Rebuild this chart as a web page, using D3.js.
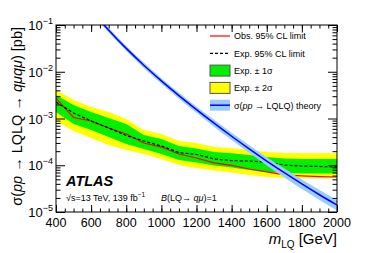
<!DOCTYPE html>
<html>
<head>
<meta charset="utf-8">
<script src="https://cdn.jsdelivr.net/npm/d3@7"></script>
<style>
  body { margin: 0; background: #fff; }
  text { font-family: "Liberation Sans", Arial, sans-serif; }
</style>
</head>
<body>
<div id="chart"></div>
<script>
// limits vs leptoquark mass (pb)
var masses   = [400, 500, 600, 700, 800, 900, 1000, 1100, 1200, 1300, 1400, 1500, 1600, 1700, 1800, 1900, 2000];
var obsLimit = [2.68e-3, 1.05e-3, 8.85e-4, 6.27e-4, 4.66e-4, 2.99e-4, 2.45e-4, 1.74e-4, 1.43e-4, 1.12e-4, 9.9e-5, 8.3e-5, 7.2e-5, 6.2e-5, 5.9e-5, 5.7e-5, 5.6e-5];
var expLimit = [2.25e-3, 1.31e-3, 8.85e-4, 6.27e-4, 4.33e-4, 3.30e-4, 2.58e-4, 1.87e-4, 1.70e-4, 1.36e-4, 1.26e-4, 1.23e-4, 1.17e-4, 1.01e-4, 9.6e-5, 9.4e-5, 9.2e-5];
var expPlus2 = [4.07e-3, 2.49e-3, 1.76e-3, 1.38e-3, 9.75e-4, 5.68e-4, 4.66e-4, 3.30e-4, 2.99e-4, 2.45e-4, 2.31e-4, 2.12e-4, 1.92e-4, 1.83e-4, 1.80e-4, 1.80e-4, 1.80e-4];
var expPlus1 = [3.18e-3, 1.95e-3, 1.38e-3, 1.03e-3, 7.62e-4, 4.44e-4, 3.64e-4, 2.58e-4, 2.28e-4, 1.92e-4, 1.80e-4, 1.66e-4, 1.50e-4, 1.39e-4, 1.36e-4, 1.36e-4, 1.36e-4];
var expMinus1 = [1.38e-3, 7.62e-4, 5.68e-4, 4.02e-4, 2.85e-4, 2.23e-4, 1.74e-4, 1.29e-4, 1.15e-4, 9.9e-5, 8.95e-5, 7.9e-5, 7.2e-5, 6.8e-5, 6.7e-5, 6.7e-5, 6.7e-5];
var expMinus2 = [8.85e-4, 5.41e-4, 3.83e-4, 2.71e-4, 2.12e-4, 1.74e-4, 1.36e-4, 1.01e-4, 8.73e-5, 7.73e-5, 7.0e-5, 6.2e-5, 5.6e-5, 5.33e-5, 5.26e-5, 5.26e-5, 5.26e-5];

// theory cross-section and its band
var thMasses = [600, 700, 800, 900, 1000, 1100, 1200, 1300, 1400, 1500, 1600, 1700, 1800, 1900, 2000];
var thXsec   = [2.04e-1, 7.76e-2, 3.16e-2, 1.38e-2, 6.38e-3, 3.09e-3, 1.55e-3, 7.94e-4, 4.17e-4, 2.24e-4, 1.23e-4, 6.92e-5, 3.98e-5, 2.34e-5, 1.41e-5];
var thUp     = [2.28e-1, 8.70e-2, 3.57e-2, 1.57e-2, 7.30e-3, 3.57e-3, 1.81e-3, 9.37e-4, 4.96e-4, 2.69e-4, 1.49e-4, 8.5e-5, 4.94e-5, 2.95e-5, 1.8e-5];
var thDown   = [1.81e-1, 6.88e-2, 2.78e-2, 1.21e-2, 5.55e-3, 2.66e-3, 1.32e-3, 6.67e-4, 3.46e-4, 1.84e-4, 9.9e-5, 5.5e-5, 3.1e-5, 1.8e-5, 1.08e-5];

var xTicks = [400, 600, 800, 1000, 1200, 1400, 1600, 1800, 2000];
var yTicks = [1e-5, 1e-4, 1e-3, 1e-2, 1e-1];
var yTickExp = ["\u22125", "\u22124", "\u22123", "\u22122", "\u22121"];

var svgWidth = 374;
var svgHeight = 253;
var chartMargin = { top: 25, right: 37, bottom: 41, left: 56 };
var chartWidth = svgWidth - chartMargin.left - chartMargin.right;
var chartHeight = svgHeight - chartMargin.top - chartMargin.bottom;

var svg = d3.select("#chart").append("svg")
  .attr("width", svgWidth)
  .attr("height", svgHeight);

var chartGroup = svg.append("g")
  .attr("transform", `translate(${chartMargin.left}, ${chartMargin.top})`);

var xScale = d3.scaleLinear().domain([400, 2000]).range([0, chartWidth]);
var yScale = d3.scaleLog().domain([1e-5, 1e-1]).range([chartHeight, 0]);

chartGroup.append("clipPath").attr("id", "clip")
  .append("rect").attr("width", chartWidth).attr("height", chartHeight);

var plot = chartGroup.append("g").attr("clip-path", "url(#clip)");

function band(lo, hi) {
  return d3.area()
    .x((d, i) => xScale(masses[i]))
    .y0((d, i) => yScale(lo[i]))
    .y1((d, i) => yScale(hi[i]));
}

plot.append("path").datum(masses)
  .attr("d", band(expMinus2, expPlus2))
  .attr("fill", "#ffff00");
plot.append("path").datum(masses)
  .attr("d", band(expMinus1, expPlus1))
  .attr("fill", "#00f000");

var line = d3.line()
  .x(d => xScale(d[0]))
  .y(d => yScale(d[1]));

plot.append("path").datum(d3.zip(masses, obsLimit))
  .attr("d", line).attr("fill", "none")
  .attr("stroke", "#ff0000").attr("stroke-width", 1.2);
plot.append("path").datum(d3.zip(masses, expLimit))
  .attr("d", line).attr("fill", "none")
  .attr("stroke", "#000").attr("stroke-width", 1.2)
  .attr("stroke-dasharray", "3,2");

// theory band + line (smooth)
plot.append("path").datum(thMasses)
  .attr("d", d3.area()
    .curve(d3.curveMonotoneX)
    .x(d => xScale(d))
    .y0((d, i) => yScale(thDown[i]))
    .y1((d, i) => yScale(thUp[i])))
  .attr("fill", "#99ccff");
plot.append("path").datum(d3.zip(thMasses, thXsec))
  .attr("d", line.curve(d3.curveMonotoneX)).attr("fill", "none")
  .attr("stroke", "#0000ff").attr("stroke-width", 1.5);

// frame
chartGroup.append("rect")
  .attr("width", chartWidth).attr("height", chartHeight)
  .attr("fill", "none").attr("stroke", "#000").attr("stroke-width", 1);

// inward ticks on all four sides
var xMinor = d3.range(400, 2001, 50);
var yMinor = [];
[1e-5, 1e-4, 1e-3, 1e-2].forEach(function(dec) {
  for (var k = 2; k <= 9; k++) yMinor.push(k * dec);
});

function tickGroup(axis, tr) {
  var g = chartGroup.append("g").attr("transform", tr).call(axis);
  g.select(".domain").remove();
  g.selectAll("text").remove();
  return g;
}
tickGroup(d3.axisBottom(xScale).tickValues(xTicks).tickSize(-7), `translate(0, ${chartHeight})`);
tickGroup(d3.axisBottom(xScale).tickValues(xMinor).tickSize(-3.5), `translate(0, ${chartHeight})`);
tickGroup(d3.axisTop(xScale).tickValues(xTicks).tickSize(-7), "translate(0,0)");
tickGroup(d3.axisTop(xScale).tickValues(xMinor).tickSize(-3.5), "translate(0,0)");
tickGroup(d3.axisLeft(yScale).tickValues(yTicks).tickSize(-9), "translate(0,0)");
tickGroup(d3.axisLeft(yScale).tickValues(yMinor).tickSize(-4.5), "translate(0,0)");
tickGroup(d3.axisRight(yScale).tickValues(yTicks).tickSize(-9), `translate(${chartWidth},0)`);
tickGroup(d3.axisRight(yScale).tickValues(yMinor).tickSize(-4.5), `translate(${chartWidth},0)`);

// tick labels
chartGroup.selectAll(".xlab").data(xTicks).enter().append("text")
  .attr("class", "xlab")
  .attr("x", d => xScale(d))
  .attr("y", chartHeight + 15)
  .attr("text-anchor", "middle")
  .attr("font-size", 12.5)
  .text(d => d);

var yLab = chartGroup.selectAll(".ylab").data(yTicks).enter().append("text")
  .attr("class", "ylab")
  .attr("x", -3)
  .attr("y", d => yScale(d) + 5)
  .attr("text-anchor", "end");
yLab.append("tspan").attr("font-size", 13).text("10");
yLab.append("tspan").attr("font-size", 9).attr("dy", -6).text((d, i) => yTickExp[i]);

// axis titles
var xTitle = svg.append("text")
  .attr("x", chartMargin.left + chartWidth)
  .attr("y", 244)
  .attr("text-anchor", "end")
  .attr("font-size", 15);
xTitle.append("tspan").attr("font-style", "italic").text("m");
xTitle.append("tspan").attr("font-size", 10).attr("dy", 4).text("LQ");
xTitle.append("tspan").attr("dy", -4).text(" [GeV]");

var yTitle = svg.append("text")
  .attr("transform", `translate(22, ${chartMargin.top + 2}) rotate(-90)`)
  .attr("text-anchor", "end")
  .attr("font-size", 14.5);
yTitle.append("tspan").text("\u03c3(");
yTitle.append("tspan").attr("font-style", "italic").text("pp");
yTitle.append("tspan").text(" \u2192 LQLQ \u2192 ");
yTitle.append("tspan").attr("font-style", "italic").text("q\u03bcq\u03bc");
yTitle.append("tspan").text(") [pb]");

// ATLAS label
chartGroup.append("text")
  .attr("x", 10).attr("y", 161)
  .attr("font-size", 14.5).attr("font-weight", "bold").attr("font-style", "italic")
  .text("ATLAS");
var lumi = chartGroup.append("text")
  .attr("x", 10).attr("y", 176)
  .attr("font-size", 9);
lumi.append("tspan").text("\u221as=13 TeV, 139 fb");
lumi.append("tspan").attr("font-size", 6.5).attr("dy", -4).text("\u22121");
var br = chartGroup.append("text")
  .attr("x", 105).attr("y", 176)
  .attr("font-size", 9);
br.append("tspan").attr("font-style", "italic").text("B");
br.append("tspan").text("(LQ\u2192 ");
br.append("tspan").attr("font-style", "italic").text("q\u03bc");
br.append("tspan").text(")=1");

// legend
var legendRows = ["obs", "exp", "s1", "s2", "th"];
var legend = svg.append("g").attr("transform", "translate(210, 36)");
var rows = legend.selectAll("g").data(legendRows).enter().append("g")
  .attr("transform", (d, i) => `translate(0, ${i * 17.3})`);

rows.each(function(d) {
  var g = d3.select(this);
  if (d === "obs") {
    g.append("line").attr("x1", 0).attr("x2", 20).attr("stroke", "#ff0000").attr("stroke-width", 1.2);
  } else if (d === "exp") {
    g.append("line").attr("x1", 0).attr("x2", 20).attr("stroke", "#000").attr("stroke-width", 1.2).attr("stroke-dasharray", "3,2");
  } else if (d === "s1" || d === "s2") {
    g.append("rect").attr("x", 0).attr("y", -5.5).attr("width", 20).attr("height", 11)
      .attr("fill", d === "s1" ? "#00f000" : "#ffff00").attr("stroke", "#555").attr("stroke-width", 1);
  } else {
    g.append("rect").attr("x", 0).attr("y", -5.5).attr("width", 20).attr("height", 11).attr("fill", "#99ccff");
    g.append("line").attr("x1", 0).attr("x2", 20).attr("stroke", "#0000ff").attr("stroke-width", 1.5);
  }
});

var labels = rows.append("text").attr("x", 24).attr("y", 3.3).attr("font-size", 9);
labels.filter(d => d === "obs").text("Obs. 95% CL limit");
labels.filter(d => d === "exp").text("Exp. 95% CL limit");
labels.filter(d => d === "s1").text("Exp. \u00b1 1\u03c3");
labels.filter(d => d === "s2").text("Exp. \u00b1 2\u03c3");
var thLab = labels.filter(d => d === "th");
thLab.append("tspan").text("\u03c3(");
thLab.append("tspan").attr("font-style", "italic").text("pp");
thLab.append("tspan").text(" \u2192 LQLQ) theory");
</script>
</body>
</html>
